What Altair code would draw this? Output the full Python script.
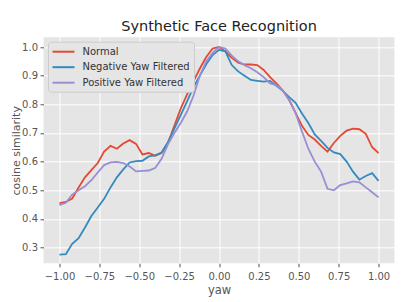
import altair as alt
import pandas as pd

x_vals = [-1.00, -0.96, -0.92, -0.88, -0.84, -0.80, -0.76, -0.72, -0.68, -0.64,
          -0.60, -0.56, -0.52, -0.48, -0.44, -0.40, -0.36, -0.32, -0.28, -0.24,
          -0.20, -0.16, -0.12, -0.08, -0.04, 0.00, 0.04, 0.08, 0.12, 0.16,
          0.20, 0.24, 0.28, 0.32, 0.36, 0.40, 0.44, 0.48, 0.52, 0.56,
          0.60, 0.64, 0.68, 0.72, 0.76, 0.80, 0.84, 0.88, 0.92, 0.96, 1.00]

normal = [0.455, 0.459, 0.471, 0.510, 0.545, 0.570, 0.595, 0.635, 0.655, 0.645,
          0.663, 0.675, 0.662, 0.625, 0.630, 0.620, 0.630, 0.665, 0.725, 0.785,
          0.835, 0.880, 0.925, 0.965, 0.995, 1.000, 0.985, 0.962, 0.945, 0.939,
          0.939, 0.937, 0.920, 0.895, 0.873, 0.848, 0.815, 0.770, 0.725, 0.693,
          0.677, 0.655, 0.635, 0.665, 0.690, 0.708, 0.715, 0.713, 0.697, 0.650, 0.630]

negative = [0.275, 0.277, 0.313, 0.333, 0.370, 0.410, 0.440, 0.470, 0.510, 0.545,
            0.573, 0.597, 0.602, 0.603, 0.618, 0.622, 0.632, 0.668, 0.715, 0.762,
            0.810, 0.860, 0.900, 0.940, 0.972, 0.990, 0.985, 0.937, 0.915, 0.900,
            0.885, 0.882, 0.879, 0.882, 0.865, 0.847, 0.825, 0.805, 0.768, 0.735,
            0.695, 0.672, 0.648, 0.632, 0.626, 0.600, 0.565, 0.537, 0.550, 0.560, 0.533]

positive = [0.448, 0.456, 0.485, 0.500, 0.514, 0.535, 0.562, 0.588, 0.597, 0.599,
            0.595, 0.583, 0.566, 0.568, 0.569, 0.578, 0.610, 0.660, 0.700, 0.735,
            0.775, 0.830, 0.900, 0.950, 0.980, 1.000, 0.995, 0.970, 0.950, 0.937,
            0.926, 0.912, 0.895, 0.873, 0.867, 0.848, 0.815, 0.770, 0.705, 0.645,
            0.600, 0.565, 0.505, 0.500, 0.518, 0.524, 0.531, 0.528, 0.510, 0.493, 0.475]

series_names = ["Normal", "Negative Yaw Filtered", "Positive Yaw Filtered"]
series_colors = ["#E24A33", "#348ABD", "#988ED5"]

rows = []
for name, vals in zip(series_names, [normal, negative, positive]):
    for i, (xv, yv) in enumerate(zip(x_vals, vals)):
        rows.append({"yaw": xv, "sim": yv, "series": name, "order": i})
df = pd.DataFrame(rows)

FONT = "DejaVu Sans"

chart = alt.Chart(df).mark_line(strokeWidth=1.8, clip=True).encode(
    x=alt.X("yaw:Q", title="yaw",
            scale=alt.Scale(domain=[-1.1, 1.1], nice=False, zero=False),
            axis=alt.Axis(values=[-1.0, -0.75, -0.5, -0.25, 0.0, 0.25, 0.5, 0.75, 1.0],
                          format=".2f", labelPadding=4.5, titlePadding=3)),
    y=alt.Y("sim:Q", title="cosine similarity",
            scale=alt.Scale(domain=[0.245, 1.034], nice=False, zero=False),
            axis=alt.Axis(values=[0.3, 0.4, 0.5, 0.6, 0.7, 0.8, 0.9, 1.0],
                          format=".1f", labelPadding=2.5, titlePadding=0.5,
                          titleFontSize=11)),
    color=alt.Color("series:N",
                    scale=alt.Scale(domain=series_names, range=series_colors),
                    legend=alt.Legend(orient="none", legendX=4.5, legendY=4.4,
                                      title=None, symbolType="M-1,0H3",
                                      symbolStrokeWidth=2, symbolSize=121,
                                      symbolFillColor="transparent",
                                      labelFontSize=10, labelFont=FONT,
                                      labelColor="#333333", labelOffset=18,
                                      fillColor="#E5E5E5", strokeColor="#CCCCCC",
                                      padding=3.5, cornerRadius=3, rowPadding=3.5)),
    order="order:Q",
    detail="series:N",
).properties(
    width=351, height=226,
    title=alt.TitleParams("Synthetic Face Recognition", fontSize=14.5, font=FONT,
                          fontWeight="normal", color="#222222", offset=3),
    autosize=alt.AutoSizeParams(type="none"),
    padding={"left": 35.5, "top": 29.3, "right": 16, "bottom": 37},
).configure_view(
    fill="#E5E5E5", stroke=None
).configure_axis(
    gridColor="#FFFFFF", gridWidth=1, domain=False,
    tickColor="#555555", tickSize=3.5, tickWidth=1,
    labelColor="#555555", labelFont=FONT, labelFontSize=10,
    titleColor="#555555", titleFont=FONT, titleFontSize=11.5, titleFontWeight="normal",
)

chart.save("out.html", embed_options={"renderer": "svg", "actions": False})
